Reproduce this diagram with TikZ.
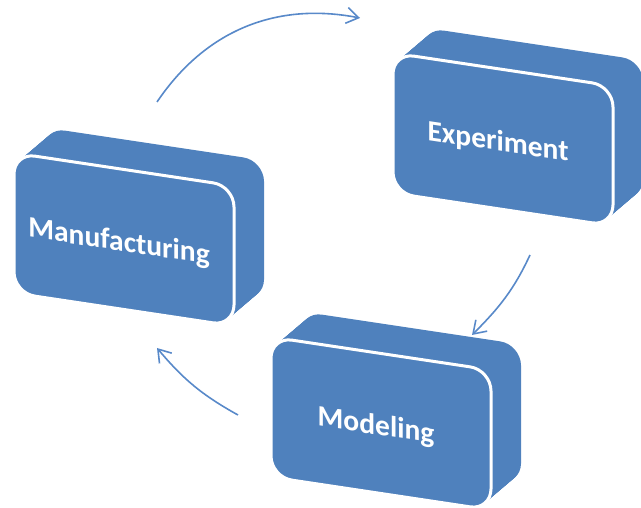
\documentclass[tikz,border=0pt]{standalone}
\usepackage{fontspec}
\setmainfont{Carlito}
\usepackage{tikz}
\usetikzlibrary{arrows.meta}

\definecolor{boxblue}{RGB}{79,129,189}
\definecolor{arrowblue}{RGB}{88,137,201}

\tikzset{
  face/.style={rounded corners=21pt, minimum width=220pt, minimum height=140pt,
    transform shape, fill=boxblue, draw=white, line width=3pt},
  facetext/.style={transform shape, text=white, font=\bfseries\fontsize{29.5}{34}\selectfont},
  flowline/.style={draw=arrowblue, line width=1.6pt,
    -{Straight Barb[length=12pt,width=16pt]}}
}

\begin{document}
\begin{tikzpicture}[x=1pt,y=1pt]
    \useasboundingbox (0,0) rectangle (641,508);
    % the three blocks, each pushed back up and to the right
    \foreach \px/\py/\n/\lbl in {14/355/man/Manufacturing, 393/455/exp/Experiment, 271/171/mod/Modeling}{
        \begin{scope}[shift={(\px,\py)}, yslant=-0.15]
            \foreach \d in {30,29,...,1}
                \fill[boxblue, rounded corners=21pt] (\d,\d) rectangle ++(220,-140);
            \node[face] (\n) at (110,-70) {};
            \node[facetext] (\n-txt) at (105,-74) {\lbl};
        \end{scope}
    }
    \coordinate (a1) at (157,406);
    \coordinate (b1) at (360,490);
    \coordinate (a2) at (530,253);
    \coordinate (b2) at (472,173);
    \coordinate (a3) at (238,93);
    \coordinate (b3) at (157,160);
    \draw[flowline] (a1) to[out=56,in=169] (b1);
    \draw[flowline] (a2) to[out=245,in=45] (b2);
    \draw[flowline] (a3) to[out=151,in=-50] (b3);
\end{tikzpicture}
\end{document}
